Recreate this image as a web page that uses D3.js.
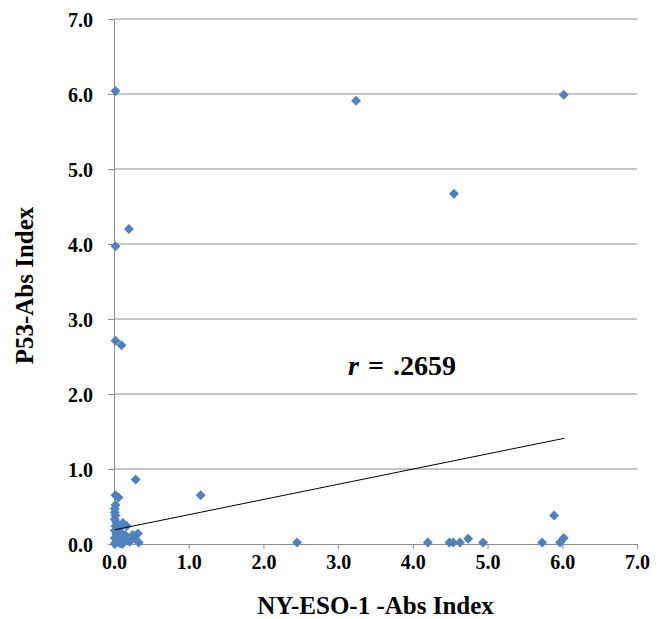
<!DOCTYPE html>
<html>
<head>
<meta charset="utf-8">
<script src="https://cdn.jsdelivr.net/npm/d3@7"></script>
<style>
  body { margin: 0; background: #fff; }
</style>
</head>
<body>
<div id="chart"></div>
<script>
// NY-ESO-1 index (x) against P53 index (y)
var xVals = [0.02, 3.24, 6.02, 4.55, 0.20, 0.02, 0.02, 0.10, 0.29, 1.16,
             0.02, 0.06, 0.02, 0.01, 0.01, 0.02, 0.01, 0.03, 0.12, 0.02,
             0.05, 0.01, 0.08, 0.03, 0.15, 0.32, 0.06, 0.01, 0.10, 0.28,
             0.04, 0.18, 0.21, 0.02, 0.08, 0.13, 0.33, 0.01, 0.05, 0.11,
             0.25, 0.17, 0.07, 0.04,
             2.45, 4.20, 4.49, 4.54, 4.63, 4.74, 4.94, 5.73, 5.89, 5.97, 6.02];
var yVals = [6.04, 5.91, 5.99, 4.67, 4.20, 3.97, 2.71, 2.65, 0.86, 0.65,
             0.65, 0.62, 0.52, 0.47, 0.42, 0.38, 0.33, 0.29, 0.28, 0.24,
             0.20, 0.18, 0.16, 0.13, 0.12, 0.14, 0.10, 0.08, 0.07, 0.08,
             0.05, 0.05, 0.03, 0.02, 0.01, 0.02, 0.02, 0.00, 0.03, 0.00,
             0.12, 0.24, 0.20, 0.10,
             0.02, 0.02, 0.02, 0.02, 0.02, 0.07, 0.02, 0.02, 0.38, 0.02, 0.08];
var tickVals = [0, 1, 2, 3, 4, 5, 6, 7];
var trendX = [0.01, 6.03];
var trendY = [0.19, 1.41];
var xTitle = "NY-ESO-1 -Abs Index";
var yTitle = "P53-Abs Index";

var serif = "Liberation Serif";
var width = 660, height = 619;
var margin = {top: 19, right: 23, bottom: 75, left: 114};
var w = width - margin.left - margin.right;
var h = height - margin.top - margin.bottom;

var svg = d3.select("#chart").append("svg")
    .attr("width", width)
    .attr("height", height);

var g = svg.append("g")
    .attr("transform", "translate(" + margin.left + "," + margin.top + ")");

var xScale = d3.scaleLinear().domain([0, 7]).range([0, w]);
var yScale = d3.scaleLinear().domain([0, 7]).range([h, 0]);

// horizontal gridlines
g.append("g")
    .selectAll("line")
    .data(tickVals.slice(1))
    .enter().append("line")
    .attr("x1", 0)
    .attr("x2", w)
    .attr("y1", function(d) { return yScale(d); })
    .attr("y2", function(d) { return yScale(d); })
    .attr("stroke", "#8c8c8c")
    .attr("stroke-width", 1);

var xAxis = d3.axisBottom(xScale).tickValues(tickVals).tickSize(5).tickSizeOuter(0)
    .tickFormat(d3.format(".1f"));
var yAxis = d3.axisLeft(yScale).tickValues(tickVals).tickSize(6).tickSizeOuter(0)
    .tickFormat(d3.format(".1f"));

var gx = g.append("g")
    .attr("transform", "translate(0," + h + ")")
    .call(xAxis);
var gy = g.append("g").call(yAxis);

[gx, gy].forEach(function(ax) {
    ax.attr("font-family", null).attr("font-size", null);
    ax.select(".domain").attr("stroke", "#8c8c8c");
    ax.selectAll(".tick line").attr("stroke", "#8c8c8c");
    ax.selectAll(".tick text")
        .attr("fill", "#000")
        .attr("font-family", serif)
        .attr("font-size", 20)
        .attr("font-weight", "bold");
});
gx.selectAll(".tick text").attr("y", 11).attr("dy", "0.71em");
gy.selectAll(".tick text").attr("x", -21).attr("dy", "0.35em");

// points
var diamond = "M0,-5L5,0L0,5L-5,0Z";
g.append("g")
    .selectAll("path")
    .data(xVals.map(function(x, i) { return [x, yVals[i]]; }))
    .enter().append("path")
    .attr("d", diamond)
    .attr("transform", function(d) {
        return "translate(" + xScale(d[0]) + "," + yScale(d[1]) + ")";
    })
    .attr("fill", "#4f81bd");

// linear trend line
g.append("line")
    .attr("x1", xScale(trendX[0]))
    .attr("y1", yScale(trendY[0]))
    .attr("x2", xScale(trendX[1]))
    .attr("y2", yScale(trendY[1]))
    .attr("stroke", "#000")
    .attr("stroke-width", 1);

// correlation label
var rText = svg.append("text")
    .attr("x", 348)
    .attr("y", 375)
    .attr("font-family", serif)
    .attr("font-weight", "bold")
    .attr("font-size", 28)
    .attr("fill", "#000");
rText.append("tspan").attr("font-style", "italic").text("r");
rText.append("tspan").attr("dx", 9).text("=");
rText.append("tspan").attr("dx", 9).text(".2659");

// axis titles
svg.append("text")
    .attr("x", margin.left + w / 2)
    .attr("y", 614)
    .attr("text-anchor", "middle")
    .attr("font-family", serif)
    .attr("font-weight", "bold")
    .attr("font-size", 25)
    .text(xTitle);

svg.append("text")
    .attr("transform", "translate(33," + (margin.top + h / 2 + 4) + ") rotate(-90)")
    .attr("text-anchor", "middle")
    .attr("font-family", serif)
    .attr("font-weight", "bold")
    .attr("font-size", 25)
    .text(yTitle);
</script>
</body>
</html>
